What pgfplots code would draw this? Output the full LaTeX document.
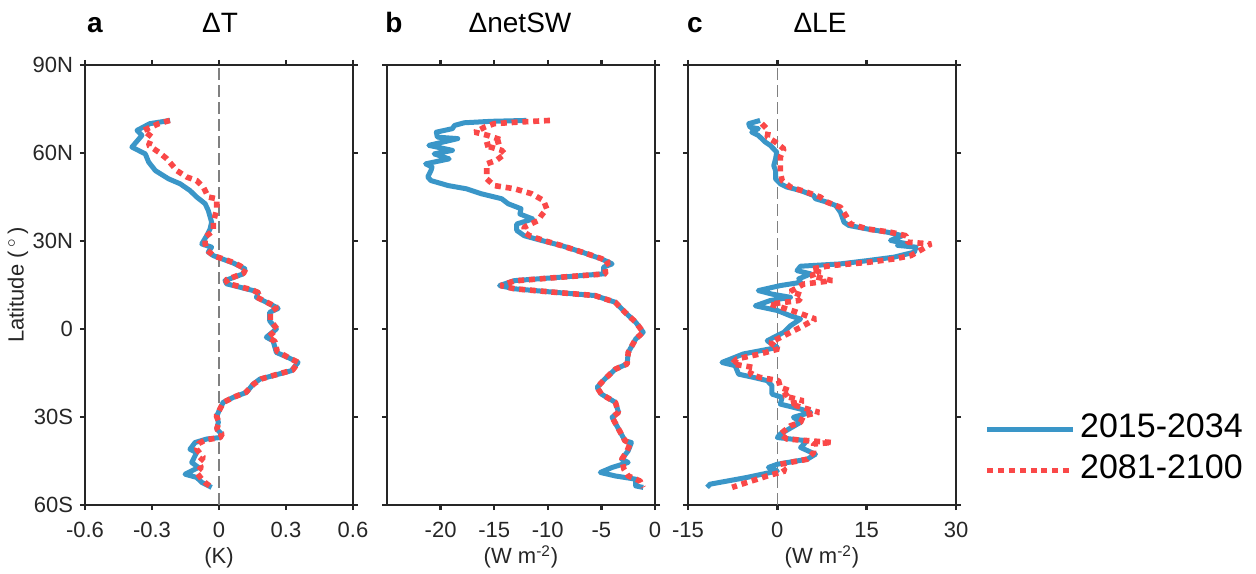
\documentclass[border=0pt]{standalone}
\usepackage{pgfplots}
\pgfplotsset{compat=1.18}
\usepackage{fontspec}
\setmainfont{Liberation Sans}
\definecolor{cblue}{RGB}{58,150,200}
\definecolor{cred}{RGB}{250,72,72}
\definecolor{axc}{RGB}{38,38,38}
\pgfplotsset{
 panel/.style={
  scale only axis, width=134pt, height=220pt, anchor=south west,
  ymin=-60, ymax=90, ytick={-60,-30,0,30,60,90}, yticklabels={},
  tick align=outside, major tick length=2.5pt,
  axis line style={axc, line width=1.2pt},
  major tick style={axc, line width=1.2pt},
  tick label style={font=\fontsize{11}{13}\selectfont, text=axc},
  xticklabel style={yshift=-2.5pt},
  label style={font=\fontsize{11}{13}\selectfont, text=axc},
  /pgf/number format/assume math mode=true,
  xlabel style={at={(axis description cs:0.5,-0.134)}, anchor=base},
 },
 bl/.style={cblue, line width=2.5pt, line join=round},
 rd/.style={cred, line width=2.8pt, line join=bevel, dash pattern=on 3pt off 2.4pt},
 zero/.style={gray, line width=0.7pt, dash pattern=on 6pt off 2.5pt},
}
\begin{document}
\begin{tikzpicture}
% ---------------- panel a
\begin{axis}[panel, at={(42.5pt,34pt)},
  xmin=-0.6, xmax=0.6, xtick={-0.6,-0.3,0,0.3,0.6}, xticklabels={-0.6,-0.3,0,0.3,0.6},
  yticklabels={60S,30S,0,30N,60N,90N},
  xlabel={(K)},
  ylabel={Latitude (\,$^{\circ}$\,)},
  ylabel style={at={(axis description cs:-0.25,0.5)}, anchor=center},
]
\addplot[zero] coordinates {(0,-60) (0,90)};
\addplot[bl] coordinates {
(-0.219,71.1) (-0.31,70) (-0.367,67.7) (-0.345,66) (-0.39,62) (-0.33,59.7) (-0.315,56.9) (-0.285,54) (-0.226,51.2) (-0.174,49.5) (-0.13,47.2) (-0.1,45) (-0.062,42.7) (-0.048,40.4) (-0.033,36.4) (-0.04,34.1) (-0.055,31.8) (-0.077,29) (-0.033,27.9) (-0.048,26.2) (-0.025,25) (0.064,22.5) (0.116,20.5) (0.108,18.8) (0.027,16.5) (0.034,15.4) (0.153,13.1) (0.175,12.5) (0.168,10.8) (0.257,7.4) (0.265,7) (0.227,5.7) (0.227,2.8) (0.257,0) (0.212,-2.8) (0.242,-4) (0.257,-8) (0.309,-9.7) (0.354,-11.4) (0.324,-14.2) (0.242,-15.9) (0.183,-17.1) (0.153,-18.8) (0.123,-21.6) (0.064,-23.3) (0.019,-25) (0.004,-27.3) (-0.01,-29.6) (-0.003,-31.8) (-0.01,-34.1) (0.012,-35.8) (0.004,-37) (-0.055,-37.5) (-0.107,-38.7) (-0.13,-41) (-0.1,-42.1) (-0.122,-45.5) (-0.092,-47.2) (-0.152,-49.5) (-0.1,-50.6) (-0.077,-52.3) (-0.033,-54)
};
\addplot[rd] coordinates {
(-0.22,71.1) (-0.27,70) (-0.338,67.7) (-0.30,65.4) (-0.315,62.6) (-0.27,60.3) (-0.233,58) (-0.189,54) (-0.144,51.8) (-0.10,50.6) (-0.07,48.4) (-0.048,45) (-0.01,44.4) (-0.01,41) (-0.025,36.4) (-0.025,33.6) (-0.062,31.3) (-0.062,29) (-0.055,27) (-0.025,25) (0.064,22.7) (0.12,20.5) (0.11,19) (0.03,16.7) (0.04,15.5) (0.15,13.3) (0.178,12.3) (0.17,10.8) (0.26,7.4) (0.23,5.7) (0.23,3) (0.26,0) (0.22,-2.8) (0.25,-4.2) (0.26,-7.6) (0.31,-9.7) (0.355,-11.4) (0.33,-14) (0.245,-15.8) (0.19,-17) (0.155,-18.8) (0.12,-21.6) (0.064,-23.3) (0.02,-25) (0.004,-27.3) (-0.012,-29.6) (0.0,-31.8) (-0.01,-34.1) (0.014,-35.8) (0.005,-37) (-0.06,-37.8) (-0.09,-39) (-0.1,-41) (-0.07,-43.8) (-0.09,-45.5) (-0.08,-47.2) (-0.1,-49) (-0.077,-51.2) (-0.06,-52.5) (-0.033,-54)
};
\end{axis}
% ---------------- panel b
\begin{axis}[panel, at={(193.5pt,34pt)},
  xmin=-25, xmax=0, xtick={-20,-15,-10,-5,0}, xticklabels={-20,-15,-10,-5,0},
  xlabel={(W m\textsuperscript{-2})},
]
\addplot[bl] coordinates {
(-12.0,71.1) (-15.3,70.8) (-17.8,70.3) (-18.7,69.4) (-18.9,68.3) (-20.4,67.1) (-20.3,65.4) (-18.4,64.9) (-21.1,62.6) (-18.9,60.9) (-20.6,59.7) (-19.2,58) (-21.4,56.3) (-20.8,55.2) (-20.9,54) (-21.2,51.8) (-20.9,50.6) (-19.3,48.9) (-17.6,47.8) (-16.2,46.1) (-14.3,44.4) (-13.7,42.7) (-12.5,41) (-12.6,39.2) (-11.4,37.5) (-12.9,35.8) (-12.9,33.6) (-12.2,31.8) (-10.6,30.2) (-8.7,28.4) (-6.8,26.2) (-5.0,23.9) (-4.0,22.2) (-4.8,21.1) (-4.8,18.8) (-9.0,17.6) (-13.1,16.5) (-14.5,14.8) (-13.1,13.7) (-9.3,12.5) (-5.6,11.4) (-3.7,9.1) (-2.8,5.7) (-1.8,2.3) (-1.1,-1.1) (-1.8,-3.4) (-2.5,-8) (-2.6,-11.9) (-3.7,-13.7) (-4.7,-17.1) (-5.4,-19.9) (-5.0,-22.2) (-3.7,-25) (-3.4,-28.4) (-4.0,-30.1) (-3.4,-34.1) (-2.8,-38.1) (-2.2,-38.7) (-2.5,-41.5) (-3.1,-44.4) (-2.5,-45.5) (-4.0,-47.2) (-5.1,-48.9) (-3.7,-50.1) (-1.8,-51.2) (-1.8,-53.5) (-1.1,-54)
};
\addplot[rd] coordinates {
(-9.8,71.1) (-12.9,70.5) (-15.0,70) (-15.9,68.8) (-16.8,67.1) (-15.6,66) (-14.2,64.3) (-15.9,62.6) (-14.3,60.9) (-14.0,59.7) (-14.8,57.5) (-15.7,56.3) (-15.7,54) (-15.7,51.2) (-15.0,48.9) (-13.1,47.8) (-11.5,46.1) (-10.4,43.8) (-10.1,41) (-10.6,38.7) (-10.9,37) (-12.2,34.7) (-12.2,33) (-11.7,31.8) (-10.4,30.2) (-8.7,28.4) (-6.8,26.2) (-5.0,24) (-4.3,22.7) (-4.7,21.6) (-4.6,18.8) (-9.0,17.6) (-13.1,16.4) (-14.4,14.8) (-13.1,13.7) (-9.3,12.5) (-5.6,11.4) (-3.7,9.1) (-2.8,5.7) (-1.8,2.3) (-1.1,-1.1) (-1.8,-3.4) (-2.5,-8) (-2.6,-11.9) (-3.7,-13.7) (-4.7,-17.1) (-5.4,-19.9) (-5.0,-22.2) (-3.7,-25) (-3.4,-28.4) (-4.0,-30.1) (-3.4,-34.1) (-2.8,-38.1) (-2.3,-38.9) (-2.6,-41.5) (-3.1,-44.4) (-2.9,-47.8) (-2.5,-50.1) (-1.4,-51.8) (-1.1,-54)
};
\end{axis}
% ---------------- panel c
\begin{axis}[panel, at={(344pt,34pt)},
  xmin=-15, xmax=30, xtick={-15,0,15,30}, xticklabels={-15,0,15,30},
  xlabel={(W m\textsuperscript{-2})},
  legend style={at={(1.105,0.125)}, anchor=west, draw=none, fill=none,
    font=\fontsize{17}{20}\selectfont, inner sep=0pt, row sep=0.5pt,
    nodes={text height=12pt, text depth=4pt, inner sep=2pt}},
  legend cell align=left,
  legend image code/.code={\draw[#1] (0pt,0pt) -- (43pt,0pt);},
]
\addplot[zero, forget plot] coordinates {(0,-60) (0,90)};
\addplot[bl] coordinates {
(-2.9,71.1) (-4.8,70) (-4.6,68.8) (-3.2,68.3) (-4.3,67.1) (-3.2,66) (-2.0,63.7) (-1.2,62.6) (-0.1,60.3) (-0.3,58) (-0.6,55.7) (-0.3,54) (-0.3,51.2) (0.5,49.5) (1.6,48.4) (3.9,47.2) (6.1,45.5) (6.4,44.4) (8.4,43.2) (9.8,42.1) (10.6,39.8) (11.2,36.4) (12.0,35.3) (15.1,34.1) (18.5,33) (21.0,31.8) (19.0,30.2) (21.9,29) (20.2,28.5) (23.3,27.9) (23.0,26.2) (19.6,24.5) (15.1,23.3) (10.6,22.2) (3.9,21.4) (3.3,19.9) (5.6,18.8) (3.6,17.1) (3.9,15.9) (0.5,14.8) (-3.2,13.1) (-0.9,11.9) (2.2,10.8) (-1.2,9.7) (-3.7,7.9) (0,6.3) (2.2,4.5) (3.9,3.4) (2.2,1.1) (1.1,-1.1) (-1.7,-4) (0,-6.3) (-5.7,-8.5) (-9.3,-11.4) (-7.1,-12.5) (-6.5,-15.4) (-4.0,-16.5) (-1.7,-17.6) (-0.9,-19.3) (-0.9,-22.2) (0.8,-23.3) (0.5,-25.6) (3.9,-27.3) (5.6,-28.4) (2.7,-30.1) (3.9,-31.8) (0.5,-35.8) (0,-37) (5.0,-38.1) (3.9,-40.4) (6.4,-42.7) (5.0,-44.4) (0,-46.1) (-1.5,-47.2) (0,-48.4) (-5.1,-50.6) (-11.3,-52.9) (-11.8,-54)
};
\addlegendentry{2015-2034}
\addplot[rd] coordinates {
(-2.6,70) (-1.5,67.7) (-1.7,65.4) (-0.3,63.7) (1.1,61.4) (0.5,58.6) (0.5,56.3) (0.5,53.5) (0.8,50.6) (2.2,48.4) (5.0,46.6) (7.2,45) (8.4,43.2) (10.6,41.5) (11.5,38.7) (12.3,35.8) (15.1,34.1) (19.0,33) (21.6,31.8) (21.9,29.6) (25.8,29) (24.4,27.3) (22.4,25) (19.6,23.9) (15.1,22.7) (8.9,21.6) (5.8,20.5) (7.2,19.3) (5.6,18.2) (9.2,16.5) (4.4,15.3) (2.2,12.8) (4.2,11.4) (3.6,9.7) (-1.2,8.5) (1.6,6.8) (3.3,5.7) (6.4,3.4) (3.9,0.6) (1.1,-2.3) (-1.2,-4.6) (0.2,-6.8) (-2.9,-8.5) (-6.8,-10.2) (-7.6,-11.9) (-4.0,-13.1) (-4.6,-15.4) (-2.9,-16.5) (0.2,-17.6) (0.5,-19.9) (2.2,-21.1) (1.1,-22.8) (4.4,-24.5) (2.2,-25.6) (7.0,-28.4) (4.4,-29.6) (3.9,-31.8) (2.2,-33) (0.5,-35.8) (1.6,-37.5) (9.2,-38.7) (6.1,-39.2) (6.1,-42.1) (5.0,-44.4) (0.5,-46.1) (1.3,-48.4) (-1.7,-50.1) (-6.0,-52.9) (-7.6,-54)
};
\addlegendentry{2081-2100}
\end{axis}
% ---------------- titles
\begin{scope}[every node/.style={anchor=base, text=black, inner sep=0pt}]
\node[font=\fontsize{14}{16}\selectfont\bfseries] at (47.5pt,270pt) {a};
\node[font=\fontsize{14}{16}\selectfont] at (110pt,270pt) {ΔT};
\node[font=\fontsize{14}{16}\selectfont\bfseries] at (197pt,270pt) {b};
\node[font=\fontsize{14}{16}\selectfont] at (260pt,270pt) {ΔnetSW};
\node[font=\fontsize{14}{16}\selectfont\bfseries] at (347.5pt,270pt) {c};
\node[font=\fontsize{14}{16}\selectfont] at (410pt,270pt) {ΔLE};
\end{scope}
\pgfresetboundingbox
\path[use as bounding box] (0pt,0pt) rectangle (628pt,286.5pt);
\end{tikzpicture}
\end{document}
